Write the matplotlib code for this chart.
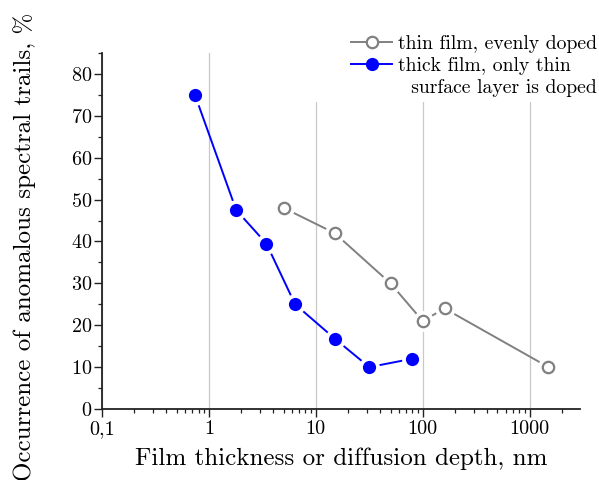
import matplotlib
matplotlib.use("Agg")
import matplotlib.pyplot as plt
from matplotlib.lines import Line2D
from matplotlib.patches import Rectangle
from matplotlib.ticker import FixedLocator, FixedFormatter, LogLocator, NullFormatter, MultipleLocator

plt.rcParams['font.family'] = ['cmr10', 'DejaVu Serif']
plt.rcParams['axes.formatter.use_mathtext'] = True
plt.rcParams['mathtext.fontset'] = 'cm'

# data
thin_x = [5, 15, 50, 100, 160, 1500]
thin_y = [48, 42, 30, 21, 24, 10]
thick_x = [0.74, 1.8, 3.45, 6.4, 15.2, 31.6, 80]
thick_y = [75, 47.5, 39.5, 25, 16.7, 10, 12]
xticks = [0.1, 1, 10, 100, 1000]
xticklabels = ["0,1", "1", "10", "100", "1000"]
yticks = [0, 10, 20, 30, 40, 50, 60, 70, 80]
labels = ["thin film, evenly doped", "thick film, only thin", "  surface layer is doped"]

fig = plt.figure(figsize=(5.99, 4.80), dpi=100)
ax = fig.add_axes([102/599, 1-409/480, (580-102)/599, (409-53)/480])
ax.set_xscale('log')
ax.set_xlim(0.1, 2960)
ax.set_ylim(0, 85)

gray = '#808080'
blue = '#0000ff'

def series(x, y, color, filled):
    ax.plot(x, y, color=color, lw=1.4, zorder=2, solid_capstyle='butt')
    ax.plot(x, y, ls='none', marker='o', ms=14, mfc='white', mec='white', zorder=3)
    if filled:
        ax.plot(x, y, ls='none', marker='o', ms=9.5, mfc=color, mec=color, mew=0, zorder=4)
    else:
        ax.plot(x, y, ls='none', marker='o', ms=8.2, mfc='white', mec=color, mew=1.6, zorder=4)

series(thin_x, thin_y, gray, False)
series(thick_x, thick_y, blue, True)

ax.xaxis.set_major_locator(FixedLocator(xticks))
ax.xaxis.set_major_formatter(FixedFormatter(xticklabels))
ax.xaxis.set_minor_locator(LogLocator(base=10, subs=range(2, 10), numticks=20))
ax.xaxis.set_minor_formatter(NullFormatter())
ax.yaxis.set_major_locator(FixedLocator(yticks))
ax.yaxis.set_minor_locator(MultipleLocator(5))

ax.tick_params(which='major', direction='out', length=5.5, width=1.0, labelsize=14.5, pad=1.5, color='#222222')
ax.tick_params(which='minor', direction='out', length=3, width=0.9, color='#222222')
ax.tick_params(axis='x', which='major', pad=2.5)

for s in ['top', 'right']:
    ax.spines[s].set_visible(False)
for s in ['left', 'bottom']:
    ax.spines[s].set_linewidth(1.3)
    ax.spines[s].set_color('#222222')

ax.set_axisbelow(True)
ax.grid(axis='x', which='major', color='#c8c8c8', lw=0.9)
ax.grid(axis='y', visible=False)
ax.add_patch(Rectangle((0.43, (409-101.5)/356), 0.6, 0.2, transform=ax.transAxes,
                       facecolor='white', edgecolor='none', zorder=0.8, clip_on=False))

ax.set_xlabel("Film thickness or diffusion depth, nm", fontsize=18)
ax.set_ylabel("Occurrence of anomalous spectral trails, %", fontsize=18)
ax.xaxis.set_label_coords(0.5, (409-448)/356)
ax.yaxis.set_label_coords((36-102)/478, (409-246.5)/356)

h1 = Line2D([], [], color=gray, lw=1.4, marker='o', ms=8.2, mfc='white', mec=gray, mew=1.6)
h2 = Line2D([], [], color=blue, lw=1.4, marker='o', ms=9.5, mfc=blue, mec=blue, mew=0)
h3 = Line2D([], [], color='none', lw=0)
leg = fig.legend([h1, h2, h3], labels, loc='upper left', bbox_to_anchor=(351/599, 1-35/480),
                 frameon=False, fontsize=14.2, borderpad=0, borderaxespad=0,
                 handlelength=2.1, handletextpad=0.3, labelspacing=0.2)

fig.savefig('out.png', dpi=100)
